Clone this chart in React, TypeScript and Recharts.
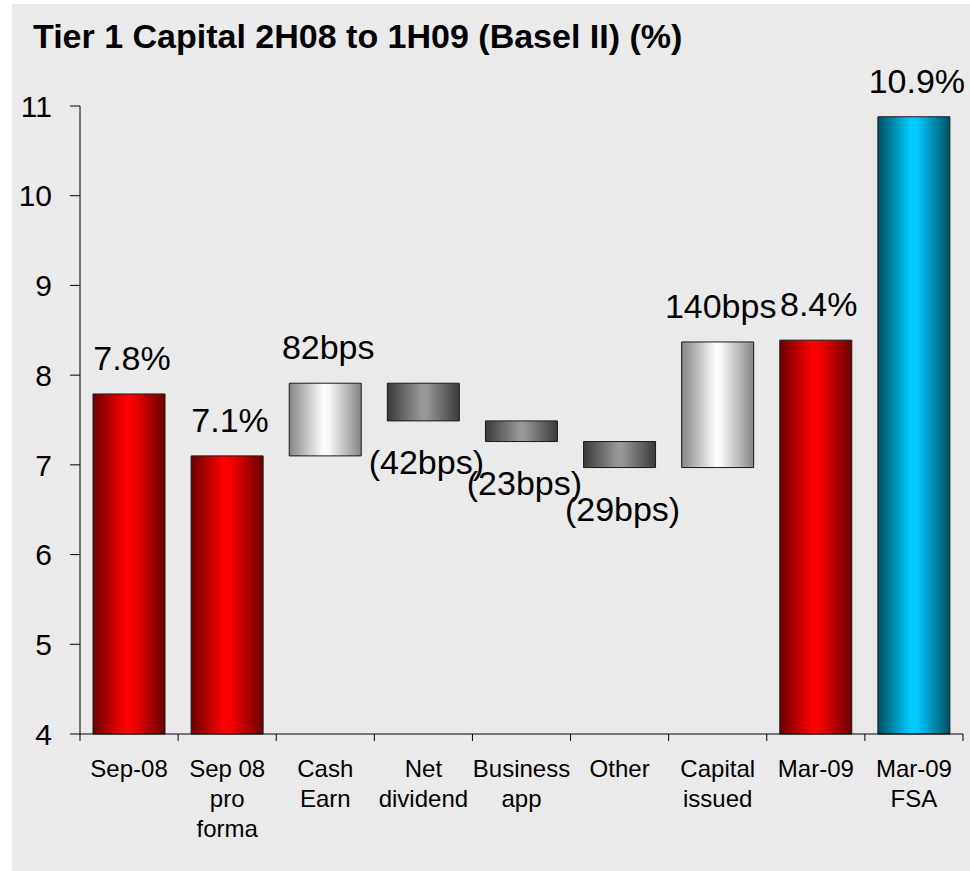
import { BarChart, Bar, XAxis, YAxis, Cell, LabelList } from 'recharts';

// waterfall: Tier 1 capital movements, Sep-08 to Mar-09
const categories = [
  'Sep-08',
  'Sep 08\npro\nforma',
  'Cash\nEarn',
  'Net\ndividend',
  'Business\napp',
  'Other',
  'Capital\nissued',
  'Mar-09',
  'Mar-09\nFSA',
];
const barStart = [4, 4, 7.1, 7.91, 7.49, 7.26, 6.97, 4, 4];
const barEnd = [7.79, 7.1, 7.91, 7.49, 7.26, 6.97, 8.37, 8.39, 10.88];
const valueLabels = ['7.8%', '7.1%', '82bps', '(42bps)', '(23bps)', '(29bps)', '140bps', '8.4%', '10.9%'];
const barKind = ['total', 'total', 'up', 'down', 'down', 'down', 'up', 'total', 'fsa'];
const yTicks = [4, 5, 6, 7, 8, 9, 10, 11];

const FONT = '"Liberation Sans", Arial, Helvetica, sans-serif';
const W = 970;
const H = 871;
const MARGIN = { top: 106, right: 7, bottom: 37, left: 10 };
const Y_AXIS_W = 70;
const BAND = (W - MARGIN.left - MARGIN.right - Y_AXIS_W) / categories.length;

const fillFor: Record<string, string> = {
  total: 'url(#gradRed)',
  up: 'url(#gradLight)',
  down: 'url(#gradDark)',
  fsa: 'url(#gradCyan)',
};

const chartData = categories.map((name, i) => ({
  name,
  range: [barStart[i], barEnd[i]],
}));

const XTick = (props: any) => {
  const { x, y, payload, index } = props;
  const lines = String(payload.value).split('\n');
  const half = BAND / 2;
  return (
    <g>
      <line x1={x - half} y1={y} x2={x - half} y2={y + 7} stroke="#000" />
      {index === categories.length - 1 && (
        <line x1={x + half} y1={y} x2={x + half} y2={y + 7} stroke="#000" />
      )}
      <text x={x} y={y + 43} textAnchor="middle" fontSize={24} fontFamily={FONT} fill="#000">
        {lines.map((l, i) => (
          <tspan key={i} x={x} dy={i === 0 ? 0 : 30}>
            {l}
          </tspan>
        ))}
      </text>
    </g>
  );
};

const ValueLabel = (props: any) => {
  const { x, y, width, height, index } = props;
  const top = Math.min(y, y + height);
  const bottom = Math.max(y, y + height);
  const below = barKind[index] === 'down';
  return (
    <text
      x={x + width / 2 + 3}
      y={below ? bottom + 53 : top - 24}
      textAnchor="middle"
      fontSize={34}
      fontFamily={FONT}
      fill="#000"
    >
      {valueLabels[index]}
    </text>
  );
};

export default function App() {
  return (
    <div style={{ position: 'absolute', left: 0, top: 0, width: W, height: H, background: '#fff' }}>
      <div style={{ position: 'absolute', left: 12, top: 4, right: 0, bottom: 0, background: '#eaeaea' }} />
      <div
        style={{
          position: 'absolute',
          left: 33,
          top: 19,
          fontFamily: FONT,
          fontWeight: 'bold',
          fontSize: 34,
          lineHeight: '34px',
          whiteSpace: 'nowrap',
          color: '#000',
        }}
      >
        Tier 1 Capital 2H08 to 1H09 (Basel II) (%)
      </div>
      <div style={{ position: 'absolute', left: 0, top: 0 }}>
        <BarChart width={W} height={H} data={chartData} margin={MARGIN} barSize={72}>
          <defs>
            <linearGradient id="gradRed" x1="0" y1="0" x2="1" y2="0">
              <stop offset="0%" stopColor="#6a0000" />
              <stop offset="45%" stopColor="#ff0000" />
              <stop offset="55%" stopColor="#f80000" />
              <stop offset="100%" stopColor="#6a0000" />
            </linearGradient>
            <linearGradient id="gradLight" x1="0" y1="0" x2="1" y2="0">
              <stop offset="0%" stopColor="#858585" />
              <stop offset="48%" stopColor="#ffffff" />
              <stop offset="55%" stopColor="#f8f8f8" />
              <stop offset="100%" stopColor="#858585" />
            </linearGradient>
            <linearGradient id="gradDark" x1="0" y1="0" x2="1" y2="0">
              <stop offset="0%" stopColor="#3a3a3a" />
              <stop offset="48%" stopColor="#999999" />
              <stop offset="55%" stopColor="#959595" />
              <stop offset="100%" stopColor="#3a3a3a" />
            </linearGradient>
            <linearGradient id="gradCyan" x1="0" y1="0" x2="1" y2="0">
              <stop offset="0%" stopColor="#004f62" />
              <stop offset="45%" stopColor="#00ccff" />
              <stop offset="55%" stopColor="#00c8fa" />
              <stop offset="100%" stopColor="#004f62" />
            </linearGradient>
          </defs>
          <XAxis
            dataKey="name"
            interval={0}
            tickLine={false}
            tickSize={0}
            tickMargin={0}
            axisLine={{ stroke: '#000' }}
            tick={<XTick />}
            height={100}
          />
          <YAxis
            domain={[4, 11]}
            ticks={yTicks}
            width={Y_AXIS_W}
            axisLine={{ stroke: '#000' }}
            tickLine={{ stroke: '#000' }}
            tickSize={10}
            tickMargin={18}
            tick={{ fill: '#000', fontSize: 30, fontFamily: FONT }}
          />
          <Bar dataKey="range" isAnimationActive={false} stroke="#1a1a1a" strokeWidth={1}>
            {chartData.map((_, i) => (
              <Cell key={i} fill={fillFor[barKind[i]]} />
            ))}
            <LabelList dataKey="range" content={<ValueLabel />} />
          </Bar>
        </BarChart>
      </div>
    </div>
  );
}
